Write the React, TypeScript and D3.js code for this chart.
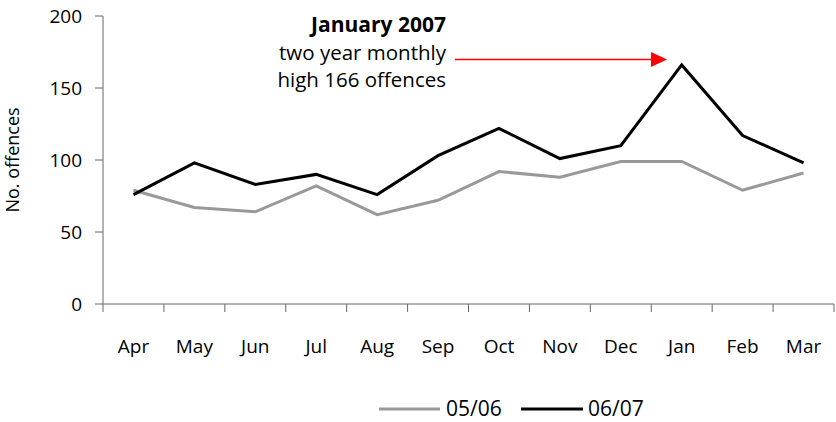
import React from "react";
import * as d3 from "d3";

const months = ["Apr", "May", "Jun", "Jul", "Aug", "Sep", "Oct", "Nov", "Dec", "Jan", "Feb", "Mar"];
const series0506 = [79, 67, 64, 82, 62, 72, 92, 88, 99, 99, 79, 91];
const series0607 = [76, 98, 83, 90, 76, 103, 122, 101, 110, 166, 117, 98];
const yTicks = [0, 50, 100, 150, 200];
const seriesNames = ["05/06", "06/07"];
const seriesColors = ["#999999", "#000000"];

const W = 836;
const H = 422;
const margin = { left: 103, right: 2, top: 16, bottom: 118 };
const FONT = "'Open Sans', Lato, sans-serif";

export default function App() {
  const x = d3
    .scaleBand<string>()
    .domain(months)
    .range([margin.left, W - margin.right])
    .paddingInner(0)
    .paddingOuter(0);
  const y = d3.scaleLinear().domain([0, 200]).range([H - margin.bottom, margin.top]);
  const cx = (m: string) => (x(m) as number) + x.bandwidth() / 2;
  const line = d3
    .line<number>()
    .x((_, i) => cx(months[i]))
    .y((d) => y(d));

  const y0 = y(0);
  const axisColor = "#666";
  const boundaries = [...months.map((m) => x(m) as number), W - margin.right];

  return (
    <svg
      width={W}
      height={H}
      style={{ position: "absolute", left: 0, top: 0, display: "block" }}
      fontFamily={FONT}
    >
      <rect width={W} height={H} fill="#fff" />
      {/* y axis */}
      <line x1={margin.left} x2={margin.left} y1={y(200)} y2={y0} stroke={axisColor} strokeWidth={1} />
      {yTicks.map((t) => (
        <g key={t}>
          <line x1={margin.left - 8} x2={margin.left} y1={y(t)} y2={y(t)} stroke={axisColor} />
          <text x={margin.left - 21} y={y(t)} dy="0.35em" textAnchor="end" fontSize={19} fill="#000">
            {t}
          </text>
        </g>
      ))}
      <text
        transform={`translate(19,${(y(0) + y(200)) / 2}) rotate(-90)`}
        textAnchor="middle"
        fontSize={18}
        fill="#000"
      >
        No. offences
      </text>
      {/* x axis */}
      <line x1={margin.left} x2={W - margin.right} y1={y0} y2={y0} stroke={axisColor} />
      {boundaries.map((b, i) => (
        <line key={i} x1={b} x2={b} y1={y0} y2={y0 + 8} stroke={axisColor} />
      ))}
      {months.map((m) => (
        <text key={m} x={cx(m)} y={353} textAnchor="middle" fontSize={19} fill="#000">
          {m}
        </text>
      ))}
      {/* lines */}
      <path d={line(series0506) as string} fill="none" stroke={seriesColors[0]} strokeWidth={3} strokeLinejoin="miter" />
      <path d={line(series0607) as string} fill="none" stroke={seriesColors[1]} strokeWidth={3} strokeLinejoin="miter" />
      {/* annotation */}
      <text x={446} y={32} textAnchor="end" fontSize={21} fontWeight="bold" fill="#000">
        January 2007
      </text>
      <text x={446} y={60} textAnchor="end" fontSize={20.5} fill="#000">
        two year monthly
      </text>
      <text x={446} y={86.5} textAnchor="end" fontSize={20.5} fill="#000">
        high 166 offences
      </text>
      <line x1={455} x2={652} y1={59.5} y2={59.5} stroke="#ff0000" strokeWidth={1.5} />
      <polygon points={`651,52 667,59.5 651,67`} fill="#ff0000" />
      {/* legend */}
      <line x1={379} x2={440} y1={409} y2={409} stroke={seriesColors[0]} strokeWidth={3} />
      <text x={446} y={416} fontSize={21} fill="#000">
        {seriesNames[0]}
      </text>
      <line x1={521} x2={583} y1={409} y2={409} stroke={seriesColors[1]} strokeWidth={3} />
      <text x={588} y={416} fontSize={21} fill="#000">
        {seriesNames[1]}
      </text>
    </svg>
  );
}
